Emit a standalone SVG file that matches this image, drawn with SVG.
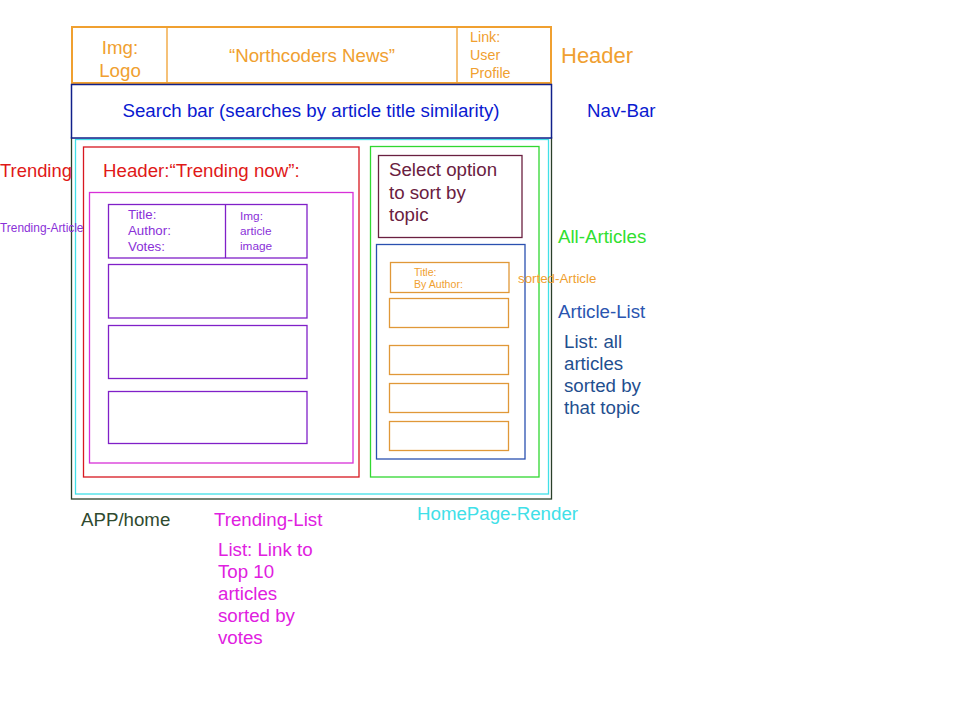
<svg xmlns="http://www.w3.org/2000/svg" width="960" height="720" viewBox="0 0 960 720">
<style>
text{font-family:"Liberation Sans",Arial,sans-serif}
.box{fill:none;stroke-width:1.3}
.or{fill:#f0a030}.bl{fill:#0a1ad0}
</style>
<rect width="960" height="720" fill="#fff"/>
<g id="app"><rect class="box" x="71.5" y="137.5" width="480" height="361.5" stroke="#2a3f2a"/>
<text x="81" y="526" font-size="18.7" fill="#2f4a2f">APP/home</text></g>
<g id="homepage-render"><rect class="box" x="75.5" y="139.5" width="473" height="354.5" stroke="#40e0e8"/>
<text x="417" y="520" font-size="18.7" fill="#40e0e8">HomePage-Render</text></g>
<g id="header">
<rect x="72" y="27" width="479" height="56" fill="#fff" stroke="#f0a030" stroke-width="2"/>
<line x1="167" y1="27" x2="167" y2="83" stroke="#f0a030" stroke-width="1.3"/>
<line x1="457" y1="27" x2="457" y2="83" stroke="#f0a030" stroke-width="1.3"/>
<text class="or" x="120" y="54" font-size="18.7" text-anchor="middle">Img:</text>
<text class="or" x="120" y="77" font-size="18.7" text-anchor="middle">Logo</text>
<text class="or" x="312" y="62" font-size="18.7" text-anchor="middle">“Northcoders News”</text>
<text class="or" x="470" y="42" font-size="14.3">Link:</text>
<text class="or" x="470" y="60" font-size="14.3">User</text>
<text class="or" x="470" y="78" font-size="14.3">Profile</text>
<text class="or" x="561" y="63" font-size="22">Header</text>
</g>
<g id="nav-bar">
<rect x="71.5" y="84.5" width="480" height="53.5" fill="#fff" stroke="#10208a" stroke-width="1.5"/>
<text class="bl" x="311" y="117" font-size="18.7" text-anchor="middle">Search bar (searches by article title similarity)</text>
<text class="bl" x="587" y="117" font-size="18.7">Nav-Bar</text>
</g>
<g id="trending">
<rect class="box" x="83.5" y="147" width="275.5" height="330" stroke="#d81820"/>
<text x="0" y="177" font-size="18.4" fill="#e01818">Trending</text>
<text x="103" y="177" font-size="18.7" fill="#e01818">Header:“Trending now”:</text>
</g>
<g id="trending-list">
<rect class="box" x="89.5" y="192.5" width="263.5" height="270.5" stroke="#d830d8"/>
<text x="214" y="526" font-size="18.7" fill="#e020e0">Trending-List</text>
<text font-size="18.7" fill="#e020e0"><tspan x="218" y="556">List: Link to</tspan><tspan x="218" y="578">Top 10</tspan><tspan x="218" y="600">articles</tspan><tspan x="218" y="622">sorted by</tspan><tspan x="218" y="644">votes</tspan></text>
</g>
<g id="trending-article-1">
<rect class="box" x="108.5" y="204.5" width="198.5" height="53.5" stroke="#8020c8"/>
<line x1="225.5" y1="204.5" x2="225.5" y2="258" stroke="#8020c8" stroke-width="1.3"/>
<text font-size="13.3" fill="#8a30d8"><tspan x="128" y="219">Title:</tspan><tspan x="128" y="235">Author:</tspan><tspan x="128" y="251">Votes:</tspan></text>
<text font-size="11.8" fill="#8a30d8"><tspan x="240" y="220">Img:</tspan><tspan x="240" y="235">article</tspan><tspan x="240" y="250">image</tspan></text>
<text x="0" y="232" font-size="11.9" fill="#8a30d8">Trending-Article</text>
</g>
<g id="trending-article-2"><rect class="box" x="108.5" y="264.5" width="198.5" height="53.5" stroke="#8020c8"/></g>
<g id="trending-article-3"><rect class="box" x="108.5" y="325.5" width="198.5" height="53" stroke="#8020c8"/></g>
<g id="trending-article-4"><rect class="box" x="108.5" y="391.5" width="198.5" height="52" stroke="#8020c8"/></g>
<g id="all-articles">
<rect class="box" x="370.5" y="146.5" width="168.5" height="330.5" stroke="#30d830"/>
<text x="558" y="243" font-size="18.7" fill="#30e030">All-Articles</text>
</g>
<g id="select-topic">
<rect class="box" x="378.5" y="155.5" width="143.5" height="82" stroke="#6a2040"/>
<text font-size="18.7" fill="#6a2040"><tspan x="389" y="176">Select option</tspan><tspan x="389" y="199">to sort by</tspan><tspan x="389" y="221">topic</tspan></text>
</g>
<g id="article-list">
<rect class="box" x="376.5" y="244.5" width="148.5" height="214.5" stroke="#2a50b0"/>
<text x="558" y="318" font-size="18.7" fill="#2a55b0">Article-List</text>
<text font-size="18.7" fill="#1f4f8f"><tspan x="564" y="348">List: all</tspan><tspan x="564" y="370">articles</tspan><tspan x="564" y="392">sorted by</tspan><tspan x="564" y="414">that topic</tspan></text>
</g>
<g id="sorted-article-1">
<rect class="box" x="390.5" y="262.5" width="118.5" height="30" stroke="#e09838"/>
<text font-size="10.6" fill="#f0a030"><tspan x="414" y="276">Title:</tspan><tspan x="414" y="288">By Author:</tspan></text>
<text x="518" y="283" font-size="13.3" fill="#f0a030">sorted-Article</text>
</g>
<g id="sorted-article-2"><rect class="box" x="389.5" y="298.5" width="119" height="29" stroke="#e09838"/></g>
<g id="sorted-article-3"><rect class="box" x="389.5" y="345.5" width="119" height="29" stroke="#e09838"/></g>
<g id="sorted-article-4"><rect class="box" x="389.5" y="383.5" width="119" height="29" stroke="#e09838"/></g>
<g id="sorted-article-5"><rect class="box" x="389.5" y="421.5" width="119" height="29" stroke="#e09838"/></g>
<g id="connectors"></g>
</svg>
